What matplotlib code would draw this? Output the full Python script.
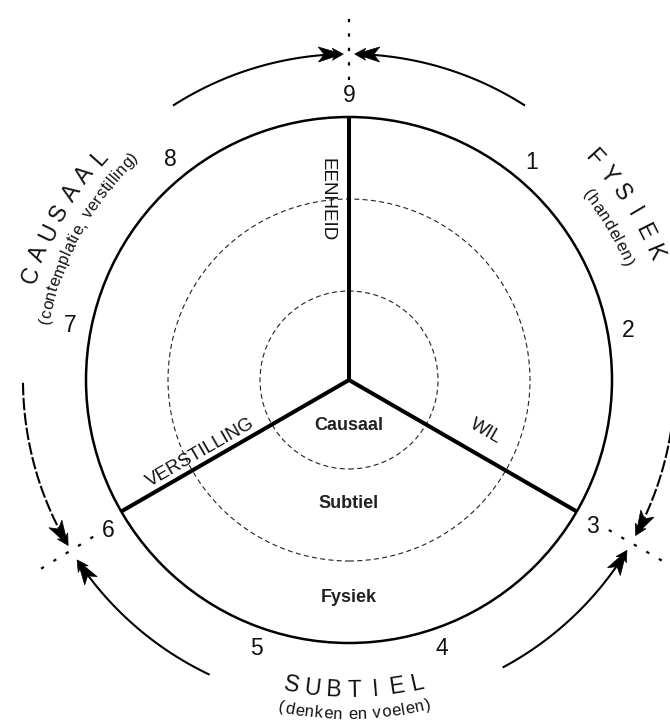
import numpy as np
import matplotlib
matplotlib.use('Agg')
import matplotlib.pyplot as plt
from matplotlib.font_manager import FontProperties, findfont
from matplotlib.ft2font import FT2Font
from matplotlib.patches import Circle, Polygon

FONT = 'Liberation Sans'

# numbers around the circle (angle in degrees, 0 = right, counterclockwise)
number_labels = ['1', '2', '3', '4', '5', '6', '7', '8', '9']
number_angles = [50, 10, -31, -71, -109, -148, 169, 129, 90]

# the three spokes and their labels
spoke_angles = [90, 210, 330]
spoke_labels = ['EENHEID', 'VERSTILLING', 'WIL']

# circles
outer_radius = 263
dashed_radii = [89, 181]

# level names inside the circle
level_labels = ['Causaal', 'Subtiel', 'Fysiek']
level_depth = [45, 123, 218]

# sector names outside the circle
sector_titles = ['CAUSAAL', 'FYSIEK', 'SUBTIEL']
sector_subtitles = ['(contemplatie, verstilling)', '(handelen)', '(denken en voelen)']
title_angles = [150, 32.5, -89]
subtitle_angles = [151.5, 30.4, -89]
subtitle_spans = [35, 15.3, 25.2]

# arrows on the outer arc: from angle -> to angle
arrow_from = [122.5, 57.5, 180.5, 244.5, -61.7, 0]
arrow_to = [91.0, 89.0, 210.5, 213.5, -31.5, -28.5]
arrow_dashed = [False, False, True, False, False, True]

# dotted boundary lines between the sectors
boundary_angles = [90, 211.5, -30]


def polar(r, deg):
    a = np.radians(deg)
    return r * np.cos(a), r * np.sin(a)


fig = plt.figure(figsize=(6.7, 7.24), dpi=100)
ax = fig.add_axes([0, 0, 1, 1])
ax.set_xlim(-349, 321)
ax.set_ylim(-344, 380)
ax.set_aspect('equal')
ax.axis('off')


def curved(text, r, mid, size, cw, step_deg=None, span_deg=None):
    fp = FontProperties(family=FONT, size=size)
    n = len(text)
    if step_deg is not None:
        offs = [(i - (n - 1) / 2) * np.radians(step_deg) * r for i in range(n)]
    else:
        ft = FT2Font(findfont(fp))
        ft.set_size(size, 100)
        adv = np.array([ft.load_char(ord(c)).linearHoriAdvance / 65536.0 for c in text])
        centers = np.cumsum(adv) - adv / 2
        natural = centers[-1] - centers[0]
        track = 0.0
        if span_deg is not None:
            track = (np.radians(span_deg) * r - natural) / (n - 1)
        centers = centers + track * np.arange(n)
        offs = centers - (centers[0] + centers[-1]) / 2
    sgn = -1 if cw else 1
    for ch, s in zip(text, offs):
        if ch == ' ':
            continue
        a = mid + sgn * np.degrees(s / r)
        rot = a - 90 if cw else a + 90
        x, y = polar(r, a)
        ax.text(x, y, ch, rotation=rot, rotation_mode='anchor', ha='center',
                va='baseline', fontproperties=fp, color='#111111')


# circles
ax.add_patch(Circle((0, 0), outer_radius, fill=False, lw=1.8, ec='k'))
for rr in dashed_radii:
    ax.add_patch(Circle((0, 0), rr, fill=False, lw=0.8, ec='#222222',
                        ls=(0, (4.5, 3))))

# spokes
for a in spoke_angles:
    x, y = polar(outer_radius, a)
    ax.plot([0, x], [0, y], color='k', lw=2.9, solid_capstyle='butt')

# spoke labels
label_dist = [180, 165, 144]
label_off = [22, 11, 24]
label_side = [1, -1, 1]
label_rot = [-90, 30, -30]
for a, lab, d, o, sd, rot in zip(spoke_angles, spoke_labels, label_dist,
                                 label_off, label_side, label_rot):
    ux, uy = np.cos(np.radians(a)), np.sin(np.radians(a))
    nx, ny = -uy * sd, ux * sd
    ax.text(d * ux + o * nx, d * uy + o * ny, lab, rotation=rot,
            rotation_mode='anchor', ha='center', va='center',
            family=FONT, fontsize=13.5, color='#111111')

# level labels
for lab, dp in zip(level_labels, level_depth):
    ax.text(0, -dp, lab, ha='center', va='center', family=FONT,
            fontsize=13, fontweight='bold', color='#222222')

# numbers
for lab, a in zip(number_labels, number_angles):
    x, y = polar(284, a)
    ax.text(x, y, lab, ha='center', va='center', family=FONT,
            fontsize=16.5, color='#111111')

# dotted boundaries
for a in boundary_angles:
    x0, y0 = polar(300, a)
    x1, y1 = polar(366, a)
    ax.plot([x0, x1], [y0, y1], color='k', lw=1.6, ls=(0, (1.5, 5)))

# arrows
head = [(0, 0), (-11, 6), (-9, 2.5), (-25, 7.5), (-19, 0), (-25, -7.5),
        (-9, -2.5), (-11, -6)]
arc_r = 326
for a0, a1, dsh in zip(arrow_from, arrow_to, arrow_dashed):
    trav = np.sign(a1 - a0)
    a_end = a1 - trav * np.degrees(18 / arc_r)
    t = np.linspace(a0, a_end, 80)
    xs, ys = polar(arc_r, t)
    ax.plot(xs, ys, color='k', lw=1.5, ls=(0, (6, 1.2)) if dsh else '-')
    tx, ty = polar(arc_r, a1)
    ra = np.radians(a1)
    dx, dy = -np.sin(ra) * trav, np.cos(ra) * trav
    nx, ny = -dy, dx
    pts = [(tx + dx * p + nx * q, ty + dy * p + ny * q) for p, q in head]
    ax.add_patch(Polygon(pts, closed=True, fc='k', ec='k', lw=0.5))

# sector titles
title_r = [328, 324, 317]
sub_r = [305, 298, 339]
cw_flags = [True, True, False]
for txt, sub, ta, sa, span, tr, sr, cw in zip(sector_titles, sector_subtitles,
                                              title_angles, subtitle_angles,
                                              subtitle_spans, title_r, sub_r,
                                              cw_flags):
    curved(txt, tr, ta, 16.5, cw, step_deg=3.9)
    curved(sub, sr, sa, 12, cw, span_deg=span)

fig.savefig('out.png', dpi=100)
